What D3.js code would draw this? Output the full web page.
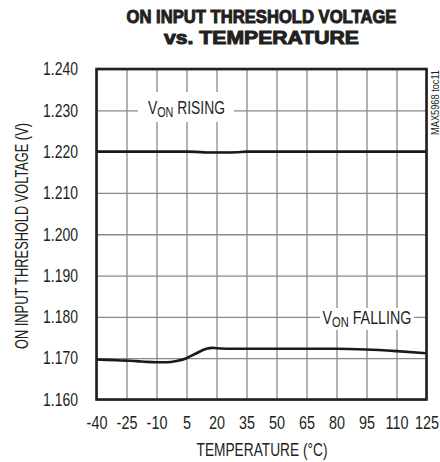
<!DOCTYPE html>
<html>
<head>
<meta charset="utf-8">
<script src="https://cdn.jsdelivr.net/npm/d3@7"></script>
<style>
  html, body { margin: 0; padding: 0; background: #fff; }
  svg { display: block; }
  text { font-family: "Liberation Sans", Arial, sans-serif; fill: #231f20; }
</style>
</head>
<body>
<svg id="chart" width="440" height="462"></svg>
<script>
// Temperature sweep (°C) and measured ON threshold voltages (V)
const risingTemp = [-40, -25, -10, 0, 5, 10, 15, 20, 25, 30, 35, 50, 65, 80, 95, 110, 125];
const risingVolt = [1.2200, 1.2200, 1.2200, 1.2200, 1.2200, 1.21995, 1.2198, 1.2198, 1.2198, 1.21985, 1.2200, 1.2200, 1.2200, 1.2200, 1.2200, 1.2200, 1.2200];

const fallingTemp = [-40, -30, -25, -20, -15, -10, -5, 0, 5, 10, 15, 18, 20, 25, 35, 50, 65, 80, 95, 110, 125];
const fallingVolt = [1.1697, 1.1695, 1.1694, 1.1693, 1.1691, 1.1690, 1.1690, 1.1693, 1.1700, 1.1712, 1.1723, 1.1725, 1.1724, 1.1723, 1.1723, 1.1723, 1.1723, 1.1723, 1.1721, 1.1717, 1.1712];

const xTicks = [-40, -25, -10, 5, 20, 35, 50, 65, 80, 95, 110, 125];
const yTicks = [1.160, 1.170, 1.180, 1.190, 1.200, 1.210, 1.220, 1.230, 1.240];

const titleLines = ["ON INPUT THRESHOLD VOLTAGE", "vs. TEMPERATURE"];
const xTitle = "TEMPERATURE (°C)";
const yTitle = "ON INPUT THRESHOLD VOLTAGE (V)";
const figId = "MAX5968 toc11";

const svg = d3.select("#chart");
const plotL = 96.5, plotR = 426.5, plotT = 69, plotB = 399.5;

const x = d3.scaleLinear().domain([-40, 125]).range([plotL, plotR]);
const y = d3.scaleLinear().domain([1.16, 1.24]).range([plotB, plotT]);

// Squeeze a text horizontally about its anchor point, either by a factor or to a width
function squeeze(node, factor, width) {
  const t = d3.select(node);
  const ax = +t.attr("x") || 0, ay = +t.attr("y") || 0;
  const f = width ? width / node.getComputedTextLength() : factor;
  t.attr("transform", `translate(${ax},${ay}) scale(${f},1) translate(${-ax},${-ay})`);
}

// Grid lines
const grid = svg.append("g");
grid.append("g")
  .attr("transform", `translate(0,${plotB})`)
  .call(d3.axisBottom(x).tickValues(xTicks).tickSize(-(plotB - plotT)).tickFormat(""))
  .call(g => g.select(".domain").remove())
  .call(g => g.selectAll("line").attr("stroke", "#8a8a8a").attr("stroke-width", 1.3));
grid.append("g")
  .attr("transform", `translate(${plotL},0)`)
  .call(d3.axisLeft(y).tickValues(yTicks).tickSize(-(plotR - plotL)).tickFormat(""))
  .call(g => g.select(".domain").remove())
  .call(g => g.selectAll("line").attr("stroke", "#8a8a8a").attr("stroke-width", 1.3));

// Tick labels (plain hyphen for negatives)
svg.append("g")
  .attr("transform", `translate(0,${plotB})`)
  .call(d3.axisBottom(x).tickValues(xTicks).tickSize(0).tickPadding(16.5).tickFormat(d => String(d)))
  .call(g => g.select(".domain").remove())
  .call(g => g.selectAll("text").attr("font-size", 18).attr("font-family", null).attr("fill", "#231f20")
    .each(function () { squeeze(this, 0.8); }));
svg.append("g")
  .attr("transform", `translate(${plotL},0)`)
  .call(d3.axisLeft(y).tickValues(yTicks).tickSize(0).tickPadding(18.5).tickFormat(d3.format(".3f")))
  .call(g => g.select(".domain").remove())
  .call(g => g.selectAll("text").attr("font-size", 18).attr("font-family", null).attr("fill", "#231f20")
    .each(function () { squeeze(this, null, 35); }));

// Label backgrounds that interrupt the grid
svg.append("rect").attr("x", 138).attr("y", 92).attr("width", 96).attr("height", 30).attr("fill", "#fff");
svg.append("rect").attr("x", 320).attr("y", 308).attr("width", 94).attr("height", 22).attr("fill", "#fff");

// Data curves
const line = d3.line().x(d => x(d[0])).y(d => y(d[1])).curve(d3.curveMonotoneX);
svg.append("path")
  .datum(d3.zip(risingTemp, risingVolt))
  .attr("d", line).attr("fill", "none").attr("stroke", "#1a1a1a").attr("stroke-width", 2.6);
svg.append("path")
  .datum(d3.zip(fallingTemp, fallingVolt))
  .attr("d", line).attr("fill", "none").attr("stroke", "#1a1a1a").attr("stroke-width", 2.6);

// Frame
svg.append("rect")
  .attr("x", plotL).attr("y", plotT).attr("width", plotR - plotL).attr("height", plotB - plotT)
  .attr("fill", "none").attr("stroke", "#231f20").attr("stroke-width", 2.6);

// Curve labels with subscripts
function seriesLabel(xp, yp, word, width) {
  const t = svg.append("text").attr("x", xp).attr("y", yp).attr("font-size", 18);
  t.append("tspan").text("V");
  t.append("tspan").attr("font-size", 14).attr("dy", 3).text("ON");
  t.append("tspan").attr("dy", -3).text(" " + word);
  squeeze(t.node(), null, width);
}
seriesLabel(148, 114.5, "RISING", 77);
seriesLabel(322.5, 324, "FALLING", 89);

// Titles
svg.append("g").selectAll("text").data(titleLines).join("text")
  .attr("x", 261.5).attr("y", (d, i) => 23 + i * 21.5)
  .attr("text-anchor", "middle").attr("font-size", 18.5).attr("font-weight", "bold")
  .attr("stroke", "#231f20").attr("stroke-width", 1)
  .text(d => d)
  .each(function (d, i) { squeeze(this, null, [270, 195][i]); });

svg.append("text").attr("x", 262).attr("y", 456).attr("text-anchor", "middle")
  .attr("font-size", 18).text(xTitle)
  .each(function () { squeeze(this, null, 131); });

// Rotated titles: squeeze along the text direction in local coordinates
svg.append("g").attr("transform", `translate(28,236) rotate(-90)`)
  .append("text").attr("text-anchor", "middle").attr("font-size", 18).text(yTitle)
  .each(function () { squeeze(this, null, 226); });

svg.append("g").attr("transform", `translate(439,70) rotate(-90)`)
  .append("text").attr("text-anchor", "end").attr("font-size", 10).text(figId)
  .each(function () { squeeze(this, null, 65); });
</script>
</body>
</html>
